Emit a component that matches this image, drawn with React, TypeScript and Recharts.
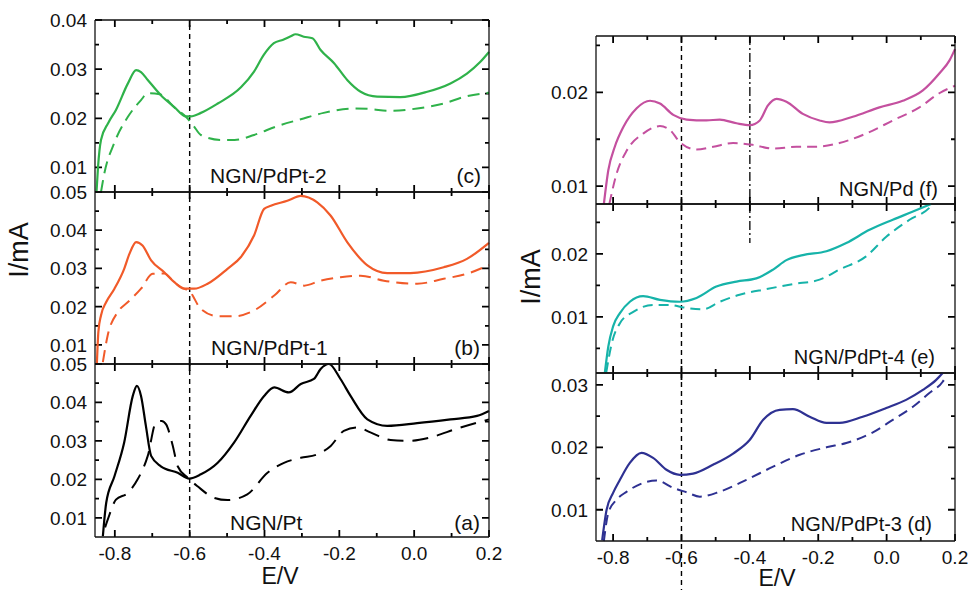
import { LineChart, Line, XAxis, YAxis, ReferenceLine } from "recharts";

type Pair = [number, number];

// E/V tick values (minor every 0.1, labelled every 0.2)
const eTicks = [-0.8, -0.7, -0.6, -0.5, -0.4, -0.3, -0.2, -0.1, 0.0, 0.1, 0.2];
const eMajor = [-0.8, -0.6, -0.4, -0.2, 0.0, 0.2];

// I/mA ticks per panel
const ticksC = [0.01, 0.015, 0.02, 0.025, 0.03, 0.035, 0.04];
const majorC = [0.01, 0.02, 0.03, 0.04];
const ticksAB = [0.01, 0.015, 0.02, 0.025, 0.03, 0.035, 0.04, 0.045, 0.05];
const majorAB = [0.01, 0.02, 0.03, 0.04, 0.05];
const ticksF = [0.01, 0.015, 0.02, 0.025];
const majorF = [0.01, 0.02];
const ticksE = [0.005, 0.01, 0.015, 0.02, 0.025];
const majorE = [0.01, 0.02];
const ticksD = [0.01, 0.015, 0.02, 0.025, 0.03];
const majorD = [0.01, 0.02, 0.03];

// (c) NGN/PdPt-2
const pdpt2Solid: Pair[] = [
  [-0.849, 0.005], [-0.845, 0.01], [-0.837, 0.0156], [-0.818, 0.019], [-0.797, 0.0217],
  [-0.765, 0.0271], [-0.743, 0.0298], [-0.73, 0.0294], [-0.712, 0.0278], [-0.677, 0.0247],
  [-0.641, 0.0223], [-0.61, 0.0204], [-0.597, 0.0204], [-0.57, 0.0211], [-0.525, 0.023],
  [-0.463, 0.0263], [-0.428, 0.0295], [-0.402, 0.0329], [-0.375, 0.0353], [-0.35, 0.036],
  [-0.33, 0.0367], [-0.317, 0.0371], [-0.295, 0.0366], [-0.272, 0.0363], [-0.25, 0.0339],
  [-0.214, 0.0312], [-0.179, 0.0278], [-0.143, 0.0254], [-0.099, 0.0244], [-0.037, 0.0243],
  [0.035, 0.0254], [0.097, 0.0271], [0.141, 0.0291], [0.177, 0.0315], [0.2, 0.0335],
];
const pdpt2Dashed: Pair[] = [
  [-0.837, 0.005], [-0.828, 0.0088], [-0.802, 0.0149], [-0.765, 0.0203], [-0.73, 0.0237],
  [-0.712, 0.0251], [-0.68, 0.0249], [-0.641, 0.0222], [-0.61, 0.0203], [-0.59, 0.0185],
  [-0.57, 0.0166], [-0.517, 0.0156], [-0.48, 0.0156], [-0.428, 0.0166], [-0.366, 0.0184],
  [-0.303, 0.0198], [-0.242, 0.0211], [-0.162, 0.022], [-0.12, 0.0219], [-0.063, 0.0215],
  [0.008, 0.022], [0.078, 0.023], [0.141, 0.0245], [0.2, 0.0252],
];

// (b) NGN/PdPt-1
const pdpt1Solid: Pair[] = [
  [-0.848, 0.005], [-0.844, 0.0134], [-0.837, 0.0177], [-0.823, 0.0212], [-0.801, 0.0247],
  [-0.775, 0.0299], [-0.761, 0.0338], [-0.743, 0.0369], [-0.726, 0.036], [-0.703, 0.0321],
  [-0.668, 0.029], [-0.641, 0.0264], [-0.615, 0.0247], [-0.588, 0.0247], [-0.552, 0.026],
  [-0.499, 0.0299], [-0.463, 0.033], [-0.428, 0.0386], [-0.401, 0.0456], [-0.383, 0.0464],
  [-0.339, 0.0477], [-0.303, 0.049], [-0.259, 0.0473], [-0.223, 0.0438], [-0.179, 0.0369],
  [-0.125, 0.0308], [-0.072, 0.0288], [-0.01, 0.0288], [0.079, 0.0303], [0.141, 0.0325],
  [0.2, 0.0367],
];
const pdpt1Dashed: Pair[] = [
  [-0.832, 0.0055], [-0.819, 0.0125], [-0.792, 0.0186], [-0.765, 0.0212], [-0.73, 0.0247],
  [-0.699, 0.0286], [-0.668, 0.0287], [-0.641, 0.0264], [-0.615, 0.0247], [-0.6, 0.0242],
  [-0.592, 0.0229], [-0.57, 0.0194], [-0.525, 0.0175], [-0.48, 0.0175], [-0.428, 0.019],
  [-0.374, 0.0229], [-0.33, 0.0264], [-0.294, 0.0255], [-0.25, 0.0268], [-0.197, 0.0277],
  [-0.143, 0.0281], [-0.081, 0.0268], [0.008, 0.026], [0.079, 0.0273], [0.141, 0.0286],
  [0.2, 0.0309],
];

// (a) NGN/Pt
const ptSolid: Pair[] = [
  [-0.832, 0.0052], [-0.823, 0.0139], [-0.801, 0.0208], [-0.775, 0.0296], [-0.752, 0.0417],
  [-0.741, 0.0443], [-0.73, 0.0417], [-0.717, 0.0339], [-0.703, 0.0261], [-0.677, 0.0234],
  [-0.632, 0.0217], [-0.601, 0.0202], [-0.57, 0.0213], [-0.525, 0.0243], [-0.481, 0.0296],
  [-0.437, 0.0365], [-0.401, 0.0417], [-0.374, 0.0439], [-0.335, 0.0426], [-0.303, 0.0448],
  [-0.268, 0.0461], [-0.25, 0.0487], [-0.228, 0.05], [-0.197, 0.0461], [-0.17, 0.0417],
  [-0.125, 0.0356], [-0.072, 0.0339], [0.008, 0.0346], [0.097, 0.0356], [0.168, 0.0365],
  [0.2, 0.0378],
];
const ptDashed: Pair[] = [
  [-0.826, 0.0075], [-0.819, 0.0095], [-0.797, 0.0147], [-0.765, 0.0165], [-0.739, 0.02],
  [-0.712, 0.0261], [-0.69, 0.0348], [-0.675, 0.0352], [-0.663, 0.0343], [-0.645, 0.0287],
  [-0.632, 0.0234], [-0.605, 0.0204], [-0.579, 0.0182], [-0.535, 0.0152], [-0.499, 0.0146],
  [-0.446, 0.0161], [-0.392, 0.0217], [-0.348, 0.0243], [-0.303, 0.0256], [-0.259, 0.0265],
  [-0.223, 0.0287], [-0.188, 0.0326], [-0.152, 0.0335], [-0.117, 0.0322], [-0.063, 0.0302],
  [-0.019, 0.03], [0.043, 0.0309], [0.115, 0.0332], [0.2, 0.0356],
];

// (f) NGN/Pd
const pdSolid: Pair[] = [
  [-0.827, 0.0081], [-0.814, 0.0117], [-0.795, 0.0142], [-0.77, 0.0163], [-0.731, 0.0183],
  [-0.692, 0.0191], [-0.663, 0.0188], [-0.624, 0.0176], [-0.585, 0.0171], [-0.527, 0.017],
  [-0.488, 0.0171], [-0.439, 0.0167], [-0.4, 0.0165], [-0.371, 0.017], [-0.347, 0.0186],
  [-0.322, 0.0193], [-0.293, 0.019], [-0.245, 0.0177], [-0.196, 0.017], [-0.167, 0.0168],
  [-0.099, 0.0174], [-0.021, 0.0184], [0.047, 0.0191], [0.106, 0.0202], [0.154, 0.022],
  [0.184, 0.0234], [0.2, 0.0246],
];
const pdDashed: Pair[] = [
  [-0.811, 0.0081], [-0.79, 0.0113], [-0.76, 0.0138], [-0.712, 0.0156], [-0.663, 0.0164],
  [-0.634, 0.016], [-0.605, 0.0147], [-0.556, 0.0139], [-0.507, 0.0142], [-0.449, 0.0146],
  [-0.391, 0.0144], [-0.332, 0.014], [-0.264, 0.0142], [-0.206, 0.0142], [-0.138, 0.0146],
  [-0.06, 0.0156], [0.018, 0.017], [0.096, 0.0184], [0.154, 0.0199], [0.2, 0.0207],
];

// (e) NGN/PdPt-4
const pdpt4Solid: Pair[] = [
  [-0.824, 0.0012], [-0.814, 0.0053], [-0.8, 0.0085], [-0.78, 0.0106], [-0.751, 0.0124],
  [-0.712, 0.0133], [-0.663, 0.0127], [-0.605, 0.0124], [-0.556, 0.013], [-0.498, 0.0148],
  [-0.439, 0.0156], [-0.381, 0.0161], [-0.332, 0.0175], [-0.293, 0.019], [-0.245, 0.0198],
  [-0.176, 0.0204], [-0.118, 0.0217], [-0.05, 0.0238], [0.018, 0.0254], [0.077, 0.0267],
  [0.13, 0.0279],
];
const pdpt4Dashed: Pair[] = [
  [-0.82, 0.0012], [-0.804, 0.0058], [-0.78, 0.009], [-0.741, 0.0108], [-0.683, 0.0119],
  [-0.634, 0.0119], [-0.595, 0.0115], [-0.537, 0.0112], [-0.488, 0.0124], [-0.43, 0.0135],
  [-0.352, 0.0144], [-0.274, 0.0152], [-0.196, 0.0159], [-0.138, 0.0175], [-0.06, 0.0196],
  [-0.001, 0.0227], [0.067, 0.0254], [0.125, 0.0273], [0.135, 0.0279],
];

// (d) NGN/PdPt-3
const pdpt3Solid: Pair[] = [
  [-0.832, 0.0051], [-0.819, 0.01], [-0.8, 0.0127], [-0.78, 0.0148], [-0.751, 0.0175],
  [-0.717, 0.0191], [-0.683, 0.0183], [-0.644, 0.0164], [-0.605, 0.0156], [-0.566, 0.0158],
  [-0.508, 0.0172], [-0.449, 0.019], [-0.4, 0.0212], [-0.361, 0.0244], [-0.313, 0.026],
  [-0.274, 0.0261], [-0.225, 0.0249], [-0.176, 0.0239], [-0.138, 0.0239], [-0.07, 0.0249],
  [-0.001, 0.0263], [0.057, 0.0276], [0.106, 0.0292], [0.145, 0.0308], [0.164, 0.0319],
];
const pdpt3Dashed: Pair[] = [
  [-0.827, 0.005], [-0.814, 0.0095], [-0.79, 0.0116], [-0.76, 0.0129], [-0.712, 0.0143],
  [-0.673, 0.0147], [-0.624, 0.0135], [-0.585, 0.0128], [-0.546, 0.0121], [-0.488, 0.0129],
  [-0.41, 0.0148], [-0.332, 0.0169], [-0.254, 0.0188], [-0.176, 0.02], [-0.118, 0.0207],
  [-0.04, 0.0224], [0.018, 0.0244], [0.077, 0.0265], [0.125, 0.0287], [0.164, 0.0305],
  [0.17, 0.031],
];

const FONT = "'Liberation Sans', Arial, Helvetica, sans-serif";
const AXIS = "#111";
const MAJ = 7;
const MIN = 4;

const toRows = (p: Pair[]) => p.map(([e, i]) => ({ e, i }));
const isIn = (list: number[], v: number) => list.some((m) => Math.abs(m - v) < 1e-9);

// axis labels only; the tick marks are drawn by reference-line shapes below
function yLabel(major: number[], show: boolean) {
  return function YLabel(props: any) {
    const x = Number(props.x);
    const y = Number(props.y);
    const v = Number(props.payload.value);
    if (!show || !isIn(major, v)) return <g />;
    return (
      <text x={x - 8} y={y} dy="0.36em" textAnchor="end" fontFamily={FONT} fontSize={19} fill="#111">
        {v.toFixed(2)}
      </text>
    );
  };
}

function xLabel(show: boolean) {
  return function XLabel(props: any) {
    const x = Number(props.x);
    const y = Number(props.y);
    const v = Number(props.payload.value);
    if (!show || !isIn(eMajor, v)) return <g />;
    return (
      <text x={x} y={y + 23} textAnchor="middle" fontFamily={FONT} fontSize={19} fill="#111">
        {v.toFixed(1)}
      </text>
    );
  };
}

// inward ticks at both ends of a full-height / full-width reference line
const xMarks = (big: boolean) => (p: any) => {
  const x = Number(p.x1);
  const top = Math.min(p.y1, p.y2);
  const bot = Math.max(p.y1, p.y2);
  const len = big ? MAJ : MIN;
  return <path d={`M${x},${top}V${top + len}M${x},${bot}V${bot - len}`} stroke="#000" strokeWidth={1.8} fill="none" />;
};

const yMarks = (big: boolean) => (p: any) => {
  const y = Number(p.y1);
  const l = Math.min(p.x1, p.x2);
  const r = Math.max(p.x1, p.x2);
  const len = big ? MAJ : MIN;
  return <path d={`M${l},${y}H${l + len}M${r},${y}H${r - len}`} stroke="#000" strokeWidth={1.8} fill="none" />;
};

const dashedDown = (extra: number) => (p: any) => (
  <line
    x1={p.x1}
    x2={p.x2}
    y1={Math.min(p.y1, p.y2)}
    y2={Math.max(p.y1, p.y2) + extra}
    stroke="#000"
    strokeWidth={1.4}
    strokeDasharray="5 4"
  />
);

type RefSpec = { x: number; yTo?: number; dashDot?: boolean; extra?: number };

type PanelProps = {
  left: number;
  plotTop: number;
  plotH: number;
  axisW: number;
  plotW: number;
  padR: number;
  xDomain: [number, number];
  yDomain: [number, number];
  yTicks: number[];
  yMajor: number[];
  solid: Pair[];
  dashed: Pair[];
  color: string;
  dash: string;
  showX: boolean;
  xH: number;
  refs: RefSpec[];
};

function Panel(p: PanelProps) {
  const padT = 12;
  const bottomH = p.showX ? p.xH : 1;
  const padB = p.showX ? 0 : 11;
  const height = padT + p.plotH + bottomH + padB;
  const width = p.axisW + p.plotW + p.padR;
  const frame = { stroke: AXIS, strokeWidth: 1.3 };
  return (
    <div style={{ position: "absolute", left: p.left, top: p.plotTop - padT }}>
      <LineChart
        width={width}
        height={height}
        margin={{ top: padT - 1, right: p.padR - 1, bottom: padB, left: 0 }}
      >
        <XAxis
          dataKey="e"
          type="number"
          domain={p.xDomain}
          ticks={eTicks}
          interval={0}
          height={bottomH}
          tickSize={0}
          tickMargin={0}
          tickLine={false}
          axisLine={frame}
          tick={xLabel(p.showX)}
        />
        <XAxis
          xAxisId="top"
          orientation="top"
          dataKey="e"
          type="number"
          domain={p.xDomain}
          ticks={eTicks}
          interval={0}
          height={1}
          tickSize={0}
          tickMargin={0}
          tickLine={false}
          axisLine={frame}
          tick={xLabel(false)}
        />
        <YAxis
          type="number"
          domain={p.yDomain}
          ticks={p.yTicks}
          interval={0}
          width={p.axisW}
          tickSize={0}
          tickMargin={0}
          tickLine={false}
          axisLine={frame}
          tick={yLabel(p.yMajor, true)}
        />
        <YAxis
          yAxisId="right"
          orientation="right"
          type="number"
          domain={p.yDomain}
          ticks={p.yTicks}
          interval={0}
          width={1}
          tickSize={0}
          tickMargin={0}
          tickLine={false}
          axisLine={frame}
          tick={yLabel(p.yMajor, false)}
        />
        {eTicks.map((v) => (
          <ReferenceLine key={`xt${v}`} x={v} ifOverflow="extendDomain" shape={xMarks(isIn(eMajor, v))} />
        ))}
        {p.yTicks.map((v) => (
          <ReferenceLine key={`yt${v}`} y={v} ifOverflow="extendDomain" shape={yMarks(isIn(p.yMajor, v))} />
        ))}
        {p.refs.map((r, k) =>
          r.dashDot ? (
            <ReferenceLine
              key={k}
              segment={[
                { x: r.x, y: p.yDomain[1] },
                { x: r.x, y: r.yTo ?? p.yDomain[0] },
              ]}
              stroke="#000"
              strokeWidth={1.3}
              strokeDasharray="9 3 2 3"
            />
          ) : r.extra ? (
            <ReferenceLine key={k} x={r.x} shape={dashedDown(r.extra)} />
          ) : (
            <ReferenceLine key={k} x={r.x} stroke="#000" strokeWidth={1.4} strokeDasharray="5 4" />
          )
        )}
        <Line
          data={toRows(p.dashed)}
          dataKey="i"
          type="monotone"
          stroke={p.color}
          strokeWidth={2}
          strokeDasharray={p.dash}
          dot={false}
          isAnimationActive={false}
        />
        <Line
          data={toRows(p.solid)}
          dataKey="i"
          type="monotone"
          stroke={p.color}
          strokeWidth={2.2}
          dot={false}
          isAnimationActive={false}
        />
      </LineChart>
    </div>
  );
}

function Txt(props: { left?: number; right?: number; top: number; size: number; children: string }) {
  return (
    <div
      style={{
        position: "absolute",
        left: props.left,
        right: props.right,
        top: props.top,
        fontFamily: FONT,
        fontSize: props.size,
        lineHeight: 1,
        color: "#111",
        whiteSpace: "nowrap",
      }}
    >
      {props.children}
    </div>
  );
}

function Centered(props: { cx: number; top: number; size: number; rotate?: boolean; cy?: number; children: string }) {
  const style: any = {
    position: "absolute",
    left: props.cx,
    fontFamily: FONT,
    fontSize: props.size,
    lineHeight: 1,
    color: "#111",
    whiteSpace: "nowrap",
  };
  if (props.rotate) {
    style.top = props.cy;
    style.transform = "translate(-50%, -50%) rotate(-90deg)";
  } else {
    style.top = props.top;
    style.transform = "translateX(-50%)";
  }
  return <div style={style}>{props.children}</div>;
}

const LX: [number, number] = [-0.853, 0.2];
const RX: [number, number] = [-0.85, 0.2];

export default function App() {
  const leftCol = { left: 0, axisW: 95, plotW: 394, padR: 22, xDomain: LX };
  const rightCol = { left: 520, axisW: 76, plotW: 359, padR: 15, xDomain: RX };
  return (
    <div
      style={{
        position: "absolute",
        left: 0,
        top: 0,
        width: 970,
        height: 590,
        background: "#fff",
        overflow: "hidden",
      }}
    >
      <Panel {...leftCol} plotTop={20} plotH={172} yDomain={[0.005, 0.04]} yTicks={ticksC} yMajor={majorC}
        solid={pdpt2Solid} dashed={pdpt2Dashed} color="#2fb24a" dash="12 7" showX={false} xH={0}
        refs={[{ x: -0.6 }]} />
      <Panel {...leftCol} plotTop={192} plotH={172} yDomain={[0.005, 0.05]} yTicks={ticksAB} yMajor={majorAB}
        solid={pdpt1Solid} dashed={pdpt1Dashed} color="#f15a29" dash="12 7" showX={false} xH={0}
        refs={[{ x: -0.6 }]} />
      <Panel {...leftCol} plotTop={364} plotH={173} yDomain={[0.005, 0.05]} yTicks={ticksAB} yMajor={majorAB}
        solid={ptSolid} dashed={ptDashed} color="#000000" dash="16 9" showX xH={53}
        refs={[{ x: -0.6 }]} />

      <Panel {...rightCol} plotTop={36} plotH={168} yDomain={[0.0081, 0.026]} yTicks={ticksF} yMajor={majorF}
        solid={pdSolid} dashed={pdDashed} color="#c4509f" dash="10 6" showX={false} xH={0}
        refs={[{ x: -0.6 }, { x: -0.4, dashDot: true }]} />
      <Panel {...rightCol} plotTop={204} plotH={169} yDomain={[0.0011, 0.0279]} yTicks={ticksE} yMajor={majorE}
        solid={pdpt4Solid} dashed={pdpt4Dashed} color="#16b3a9" dash="10 6" showX={false} xH={0}
        refs={[{ x: -0.6 }, { x: -0.4, dashDot: true, yTo: 0.0217 }]} />
      <Panel {...rightCol} plotTop={373} plotH={168} yDomain={[0.005, 0.0319]} yTicks={ticksD} yMajor={majorD}
        solid={pdpt3Solid} dashed={pdpt3Dashed} color="#2e3192" dash="10 6" showX xH={49}
        refs={[{ x: -0.6, extra: 60 }]} />

      <Txt left={210} top={165} size={21}>NGN/PdPt-2</Txt>
      <Txt right={489} top={165} size={21}>(c)</Txt>
      <Txt left={211} top={337} size={21}>NGN/PdPt-1</Txt>
      <Txt right={490} top={337} size={21}>(b)</Txt>
      <Txt left={230} top={512} size={21}>NGN/Pt</Txt>
      <Txt right={490} top={512} size={21}>(a)</Txt>

      <Txt right={32} top={179} size={20}>NGN/Pd (f)</Txt>
      <Txt right={35} top={347} size={20}>NGN/PdPt-4 (e)</Txt>
      <Txt right={38} top={514} size={20}>NGN/PdPt-3 (d)</Txt>

      <Centered cx={280} top={565} size={23}>E/V</Centered>
      <Centered cx={777} top={567} size={23}>E/V</Centered>
      <Centered cx={19} cy={250} top={0} size={27} rotate>I/mA</Centered>
      <Centered cx={531} cy={277} top={0} size={27} rotate>I/mA</Centered>
    </div>
  );
}
